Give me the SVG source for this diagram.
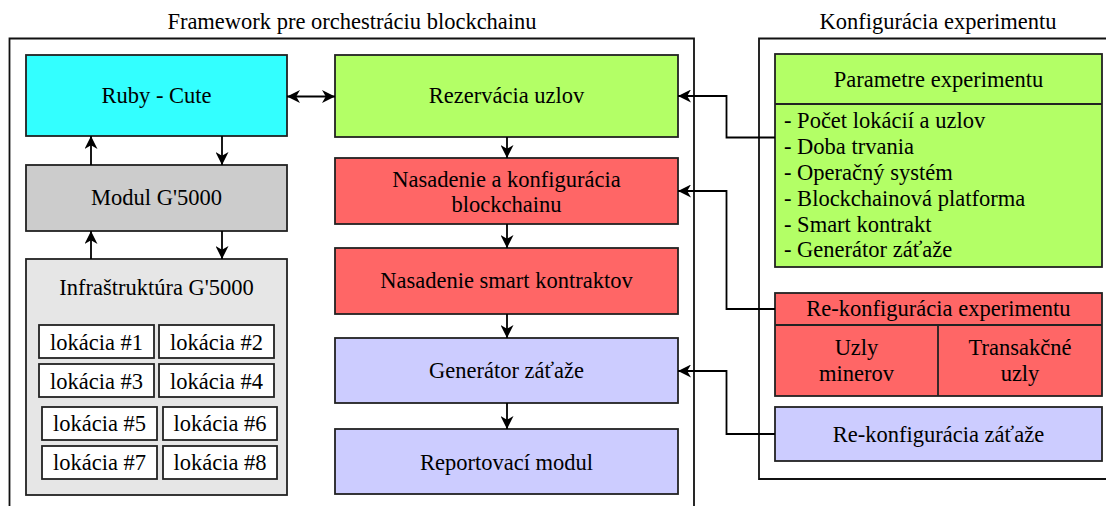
<svg xmlns="http://www.w3.org/2000/svg" width="1106" height="506" viewBox="0 0 1106 506">
<defs>
<style>
text{font-family:"Liberation Serif","Times New Roman",serif;font-size:22.5px;fill:#000;text-anchor:middle}
text.l{text-anchor:start}
.b{stroke:#222;stroke-width:1.8}
.f{fill:none;stroke:#111;stroke-width:1.8}
.c{fill:none;stroke:#000;stroke-width:1.8}
</style>
<marker id="ah" viewBox="0 0 12 12" refX="12" refY="6" markerWidth="13" markerHeight="13" markerUnits="userSpaceOnUse" orient="auto-start-reverse">
<path d="M0,0 L12,6 L0,12 L3.5,6 z" fill="#000"/>
</marker>
</defs>
<rect width="1106" height="506" fill="#fff"/>

<g id="frame-left">
<path class="f" d="M9.5,506 V38.5 H694 V506"/>
<text x="352" y="29">Framework pre orchestráciu blockchainu</text>
</g>
<g id="frame-right">
<path class="f" d="M1107,479 H759 V38.5 H1107"/>
<text x="938" y="29">Konfigurácia experimentu</text>
</g>

<g id="ruby">
<rect class="b" x="26" y="55" width="261" height="81" fill="#33FFFF"/>
<text x="156.5" y="103">Ruby - Cute</text>
</g>
<g id="modul">
<rect class="b" x="26" y="165" width="261" height="66" fill="#CCCCCC"/>
<text x="156.5" y="205">Modul G'5000</text>
</g>
<g id="infra">
<rect class="b" x="26" y="259" width="261" height="236" fill="#E6E6E6"/>
<text x="156.5" y="295">Infraštruktúra G'5000</text>
</g>
<g id="lok1"><rect class="b" x="39" y="325" width="115" height="33" fill="#fff"/><text x="96.5" y="350">lokácia #1</text></g>
<g id="lok2"><rect class="b" x="159" y="325" width="115" height="33" fill="#fff"/><text x="216.5" y="350">lokácia #2</text></g>
<g id="lok3"><rect class="b" x="39" y="364" width="115" height="33" fill="#fff"/><text x="96.5" y="389">lokácia #3</text></g>
<g id="lok4"><rect class="b" x="159" y="364" width="115" height="33" fill="#fff"/><text x="216.5" y="389">lokácia #4</text></g>
<g id="lok5"><rect class="b" x="42" y="407" width="115" height="33" fill="#fff"/><text x="99.5" y="431">lokácia #5</text></g>
<g id="lok6"><rect class="b" x="163" y="407" width="114" height="33" fill="#fff"/><text x="220" y="431">lokácia #6</text></g>
<g id="lok7"><rect class="b" x="42" y="446" width="115" height="33" fill="#fff"/><text x="99.5" y="470">lokácia #7</text></g>
<g id="lok8"><rect class="b" x="163" y="446" width="114" height="33" fill="#fff"/><text x="220" y="470">lokácia #8</text></g>

<g id="rezervacia">
<rect class="b" x="335" y="55" width="343" height="82" fill="#B3FF66"/>
<text x="506.5" y="103">Rezervácia uzlov</text>
</g>
<g id="nasadenie-bc">
<rect class="b" x="335" y="158" width="343" height="66" fill="#FF6666"/>
<text x="506.5" y="187">Nasadenie a konfigurácia</text>
<text x="506.5" y="212">blockchainu</text>
</g>
<g id="nasadenie-sc">
<rect class="b" x="335" y="248" width="343" height="66" fill="#FF6666"/>
<text x="506.5" y="288">Nasadenie smart kontraktov</text>
</g>
<g id="generator">
<rect class="b" x="335" y="338" width="343" height="65" fill="#CCCCFF"/>
<text x="506.5" y="378">Generátor záťaže</text>
</g>
<g id="reportovaci">
<rect class="b" x="335" y="429" width="343" height="65" fill="#CCCCFF"/>
<text x="506.5" y="470">Reportovací modul</text>
</g>

<g id="parametre">
<rect class="b" x="775" y="54" width="327" height="213" fill="#B3FF66"/>
<line class="b" x1="775" y1="104" x2="1102" y2="104"/>
<text x="938.5" y="87">Parametre experimentu</text>
<text class="l" x="784" y="128">- Počet lokácií a uzlov</text>
<text class="l" x="784" y="154">- Doba trvania</text>
<text class="l" x="784" y="180">- Operačný systém</text>
<text class="l" x="784" y="205.5">- Blockchainová platforma</text>
<text class="l" x="784" y="231.5">- Smart kontrakt</text>
<text class="l" x="784" y="257">- Generátor záťaže</text>
</g>
<g id="rekonfig-exp">
<rect class="b" x="775" y="293" width="327" height="103" fill="#FF6666"/>
<line class="b" x1="775" y1="325" x2="1102" y2="325"/>
<line class="b" x1="938" y1="325" x2="938" y2="396"/>
<text x="938.5" y="316">Re-konfigurácia experimentu</text>
<text x="856.5" y="355">Uzly</text>
<text x="856.5" y="381">minerov</text>
<text x="1020" y="355">Transakčné</text>
<text x="1020" y="381">uzly</text>
</g>
<g id="rekonfig-zat">
<rect class="b" x="775" y="407" width="327" height="54" fill="#CCCCFF"/>
<text x="938.5" y="442">Re-konfigurácia záťaže</text>
</g>

<g id="connectors">
<path class="c" d="M287,96.5 H335" marker-start="url(#ah)" marker-end="url(#ah)"/>
<path class="c" d="M91,165 V136" marker-end="url(#ah)"/>
<path class="c" d="M222,136 V165" marker-end="url(#ah)"/>
<path class="c" d="M91,259 V231" marker-end="url(#ah)"/>
<path class="c" d="M222,231 V259" marker-end="url(#ah)"/>
<path class="c" d="M507,137 V158" marker-end="url(#ah)"/>
<path class="c" d="M507,224 V248" marker-end="url(#ah)"/>
<path class="c" d="M507,314 V338" marker-end="url(#ah)"/>
<path class="c" d="M507,403 V429" marker-end="url(#ah)"/>
<path class="c" d="M775,137.5 H726.5 V96 H678" marker-end="url(#ah)"/>
<path class="c" d="M775,309 H726.5 V191 H678" marker-end="url(#ah)"/>
<path class="c" d="M775,434 H726.5 V371 H678" marker-end="url(#ah)"/>
</g>
</svg>
